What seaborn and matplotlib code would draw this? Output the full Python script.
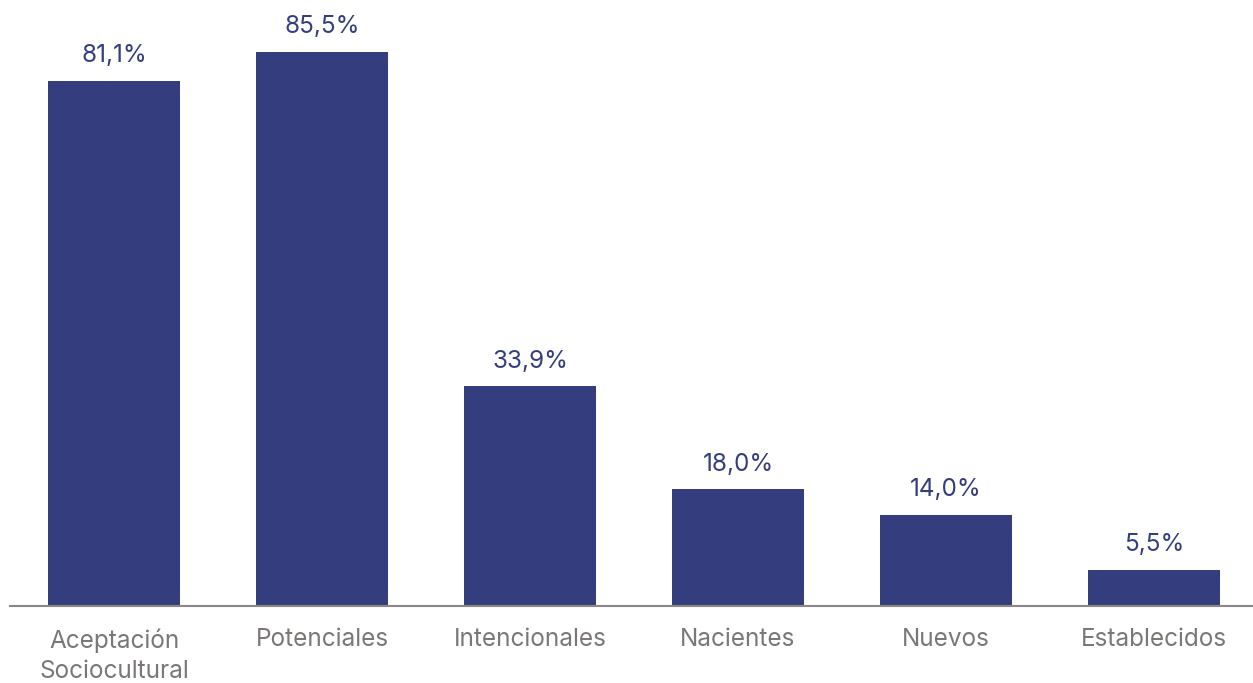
import matplotlib
matplotlib.use("Agg")
import matplotlib.pyplot as plt
import seaborn as sns
import pandas as pd

categories = ["Aceptación\nSociocultural", "Potenciales", "Intencionales",
              "Nacientes", "Nuevos", "Establecidos"]
values = [81.1, 85.5, 33.9, 18.0, 14.0, 5.5]
value_labels = ["81,1%", "85,5%", "33,9%", "18,0%", "14,0%", "5,5%"]

BAR_COLOR = "#343E7E"
TEXT_GRAY = "#7A7775"
AXIS_GRAY = "#8A8785"

sns.set_style("white")
plt.rcParams["font.family"] = ["Inter", "DejaVu Sans"]

df = pd.DataFrame({"categoria": categories, "valor": values})

fig = plt.figure(figsize=(12.53, 6.83), dpi=100)
ax = fig.add_axes([10 / 1253, 77 / 683, 1248 / 1253, 583 / 683])

sns.barplot(data=df, x="categoria", y="valor", color=BAR_COLOR,
            width=0.635, saturation=1, linewidth=0, ax=ax)

for i, (v, lab) in enumerate(zip(values, value_labels)):
    ax.annotate(lab, (i, v), xytext=(0, 10), textcoords="offset points",
                ha="center", va="bottom", fontsize=17.5, fontweight="normal",
                color=BAR_COLOR)

ax.set_xlim(-0.5, 5.5)
ax.set_ylim(0, 90)
ax.set_xlabel("")
ax.set_ylabel("")
ax.set_yticks([])
ax.tick_params(axis="x", length=0, pad=16, labelsize=17.5, labelcolor=TEXT_GRAY)
for lbl in ax.get_xticklabels():
    lbl.set_linespacing(1.4)
    lbl.set_fontweight("normal")

for side in ["top", "right", "left"]:
    ax.spines[side].set_visible(False)
ax.spines["bottom"].set_color(AXIS_GRAY)
ax.spines["bottom"].set_linewidth(1.5)

fig.savefig("out.png", dpi=100)
